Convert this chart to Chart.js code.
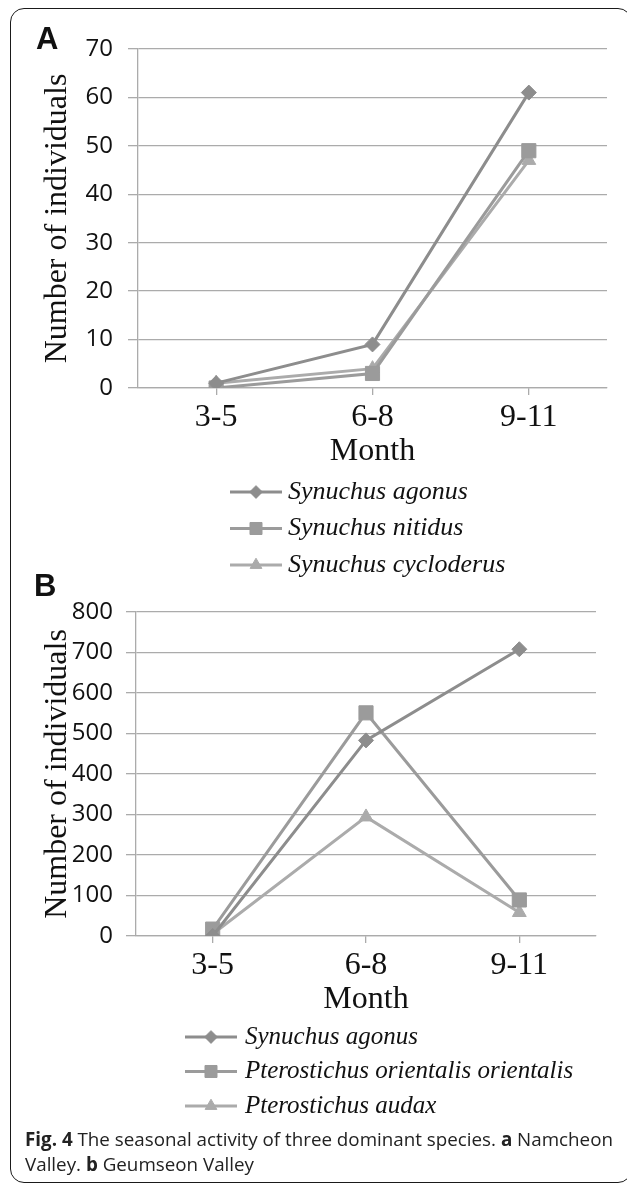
<!DOCTYPE html>
<html>
<head>
<title>Seasonal activity of three dominant species</title>
<script src="https://cdn.jsdelivr.net/npm/chart.js"></script>
<style>
  body { margin: 0; width: 627px; height: 1188px; overflow: hidden; background: #fff; position: relative; }
  #frame { position: absolute; left: 10px; top: 8px; width: 622px; height: 1175px; border: 1.5px solid #1a1a1a; border-radius: 14px; box-sizing: border-box; }
  canvas { position: absolute; left: 0; }
  .tag { position: absolute; font-family: "Liberation Sans", Arial, sans-serif; font-weight: bold; font-size: 31px; line-height: 31px; color: #111; }
  #caption { position: absolute; left: 25px; top: 1127px; font-family: "Open Sans", sans-serif; font-size: 18.8px; line-height: 25px; color: #222; white-space: nowrap; }
</style>
</head>
<body>
<div id="frame"></div>
<canvas id="chartA" width="627" height="585" style="top:0px"></canvas>
<canvas id="chartB" width="627" height="560" style="top:570px"></canvas>
<div class="tag" style="left:36px; top:23px">A</div>
<div class="tag" style="left:34px; top:570px">B</div>
<div id="caption"><b>Fig. 4</b> The seasonal activity of three dominant species. <b>a</b> Namcheon<br>Valley. <b>b</b> Geumseon Valley</div>

<script>
// --- data ---
const months = ['3-5', '6-8', '9-11'];

// A: Namcheon Valley
const namcheonSpecies = ['Synuchus agonus', 'Synuchus nitidus', 'Synuchus cycloderus'];
const namcheonAgonus = [1, 9, 61];
const namcheonNitidus = [0, 3, 49];
const namcheonCycloderus = [1, 4, 47];
const namcheonTicks = [0, 10, 20, 30, 40, 50, 60, 70];

// B: Geumseon Valley
const geumseonSpecies = ['Synuchus agonus', 'Pterostichus orientalis orientalis', 'Pterostichus audax'];
const geumseonAgonus = [0, 483, 708];
const geumseonOrientalis = [17, 551, 89];
const geumseonAudax = [5, 294, 58];
const geumseonTicks = [0, 100, 200, 300, 400, 500, 600, 700, 800];

const lineColors = ['#8d8d8d', '#9b9b9b', '#ababab'];
const pointStyles = ['rectRot', 'rect', 'triangle'];
const pointSizes = [7.5, 10, 8];
const gridColor = '#ababab';

// draws the line+marker key under the plot, one row per dataset
const keyPlugin = {
  id: 'key',
  afterDraw(chart, args, opts) {
    const ctx = chart.ctx;
    chart.data.datasets.forEach((ds, i) => {
      const y = chart.chartArea.bottom + opts.offset + i * opts.gap;
      ctx.save();
      ctx.strokeStyle = ds.borderColor;
      ctx.fillStyle = ds.backgroundColor;
      ctx.lineWidth = 3;
      ctx.beginPath();
      ctx.moveTo(opts.x, y);
      ctx.lineTo(opts.x + 52, y);
      ctx.stroke();
      ctx.lineWidth = 1;
      Chart.helpers.drawPoint(ctx, { pointStyle: ds.pointStyle, radius: ds.pointRadius * 0.85, borderWidth: 1, rotation: 0 }, opts.x + 26, y);
      ctx.fillStyle = '#111';
      ctx.font = 'italic ' + opts.size + 'px "Liberation Serif", "Times New Roman", serif';
      ctx.textBaseline = 'middle';
      ctx.textAlign = 'left';
      ctx.fillText(ds.label, opts.x + opts.textGap, y);
      ctx.restore();
    });
  }
};

function makeChart(id, names, series, ticks, geo) {
  const datasets = series.map((vals, i) => ({
    label: names[i],
    data: vals,
    borderColor: lineColors[i],
    backgroundColor: lineColors[i],
    borderWidth: 3,
    pointStyle: pointStyles[i],
    pointRadius: pointSizes[i],
    pointBorderWidth: 1,
    tension: 0
  }));
  const step = ticks[1] - ticks[0];
  return new Chart(document.getElementById(id), {
    type: 'line',
    data: { labels: months, datasets: datasets },
    plugins: [keyPlugin],
    options: {
      responsive: false,
      animation: false,
      layout: { padding: { top: geo.top, right: 627 - geo.right, bottom: geo.bottomPad, left: 0 } },
      plugins: {
        legend: { display: false },
        tooltip: { enabled: false },
        key: geo.key
      },
      scales: {
        x: {
          offset: true,
          afterFit: s => { s.height = 85; },
          grid: { drawOnChartArea: false, drawTicks: true, tickLength: 7, color: gridColor, lineWidth: 1.3 },
          border: { display: true, color: gridColor, width: 1.3 },
          ticks: { color: '#111', padding: 3, font: { family: '"Liberation Serif", "Times New Roman", serif', size: 32 } },
          title: { display: true, text: 'Month', color: '#111', padding: { top: 0, bottom: 2 },
                   font: { family: '"Liberation Serif", "Times New Roman", serif', size: 32 } }
        },
        y: {
          min: ticks[0],
          max: ticks[ticks.length - 1],
          afterFit: s => { s.width = geo.left; },
          afterBuildTicks: s => { s.ticks = ticks.map(v => ({ value: v })); },
          grid: { drawTicks: true, tickLength: 10, color: gridColor, lineWidth: 1.3 },
          border: { display: true, color: gridColor, width: 1.3 },
          ticks: { stepSize: step, color: '#111', padding: geo.tickPad, font: { family: '"Open Sans", sans-serif', size: 24 } },
          title: { display: true, text: 'Number of individuals', color: '#111', padding: { top: 38, bottom: 0 },
                   font: { family: '"Liberation Serif", "Times New Roman", serif', size: 32 } }
        }
      }
    }
  });
}

makeChart('chartA', namcheonSpecies, [namcheonAgonus, namcheonNitidus, namcheonCycloderus], namcheonTicks,
  { left: 138, right: 607, top: 49, bottomPad: 112, tickPad: 15,
    key: { x: 230, textGap: 58, offset: 104, gap: 36.5, size: 26 } });

makeChart('chartB', geumseonSpecies, [geumseonAgonus, geumseonOrientalis, geumseonAudax], geumseonTicks,
  { left: 136, right: 596, top: 42, bottomPad: 109, tickPad: 13,
    key: { x: 185, textGap: 60, offset: 101, gap: 34.5, size: 25 } });
</script>
</body>
</html>
